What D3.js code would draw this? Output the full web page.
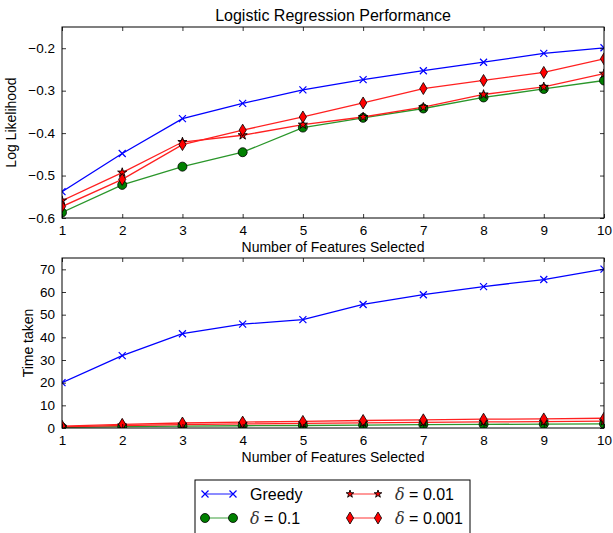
<!DOCTYPE html>
<html>
<head>
<meta charset="utf-8">
<script src="https://cdn.jsdelivr.net/npm/d3@7"></script>
<style>
  body { margin: 0; background: #fff; }
  text { font-family: "Liberation Sans", Arial, sans-serif; fill: #000; }
</style>
</head>
<body>
<div class="board"></div>
<script>
// data
var features = [1, 2, 3, 4, 5, 6, 7, 8, 9, 10];
var llGreedy = [-0.538, -0.448, -0.366, -0.330, -0.298, -0.274, -0.253, -0.233, -0.212, -0.199];
var llD01   = [-0.587, -0.522, -0.479, -0.445, -0.387, -0.364, -0.342, -0.316, -0.296, -0.276];
var llD001  = [-0.559, -0.493, -0.421, -0.405, -0.380, -0.362, -0.339, -0.309, -0.291, -0.260];
var llD0001 = [-0.573, -0.509, -0.427, -0.393, -0.362, -0.329, -0.295, -0.276, -0.257, -0.225];
var tGreedy = [20.0, 31.9, 41.6, 45.8, 47.8, 54.5, 58.8, 62.4, 65.5, 70.1];
var tD01    = [0.3, 0.6, 0.8, 1.0, 1.1, 1.3, 1.5, 1.6, 1.7, 1.8];
var tD001   = [0.5, 1.1, 1.5, 1.8, 2.0, 2.3, 2.5, 2.7, 2.8, 3.0];
var tD0001  = [0.8, 1.6, 2.2, 2.6, 2.9, 3.3, 3.6, 3.9, 4.0, 4.3];
var llTicks = [-0.6, -0.5, -0.4, -0.3, -0.2];
var tTicks = [0, 10, 20, 30, 40, 50, 60, 70];

var W = 613, H = 533;
var svg = d3.select('.board').append('svg')
  .attr('width', W).attr('height', H);

var left = 62, right = 604;
var x = d3.scaleLinear().domain([1, 10]).range([left, right]);

// one series description per line
var series = [
  {name: 'greedy', color: '#0000ff', lineColor: '#0000ff', marker: 'x'},
  {name: 'd01', color: '#008000', lineColor: '#2a962a', marker: 'o'},
  {name: 'd001', color: '#ff0000', lineColor: '#ff2020', marker: '*'},
  {name: 'd0001', color: '#ff0000', lineColor: '#ff2020', marker: 'd'}
];

function drawMarker(g, type, color, cx, cy, small) {
  if (type == 'x') {
    g.append('path')
      .attr('d', 'M' + (cx - 3.5) + ',' + (cy - 3.5) + 'L' + (cx + 3.5) + ',' + (cy + 3.5) +
                 'M' + (cx - 3.5) + ',' + (cy + 3.5) + 'L' + (cx + 3.5) + ',' + (cy - 3.5))
      .style('stroke', color).style('stroke-width', 1.2).style('fill', 'none');
  } else if (type == 'o') {
    g.append('circle').attr('cx', cx).attr('cy', cy).attr('r', 4.5)
      .style('fill', color).style('stroke', '#000').style('stroke-width', 0.8);
  } else if (type == '*') {
    g.append('path')
      .attr('d', d3.symbol().type(d3.symbolStar).size(small ? 18 : 26)())
      .attr('transform', 'translate(' + cx + ',' + cy + ')')
      .style('fill', color).style('stroke', '#000').style('stroke-width', 0.9);
  } else {
    g.append('path')
      .attr('d', 'M0,-6L3.6,0L0,6L-3.6,0Z')
      .attr('transform', 'translate(' + cx + ',' + cy + ')')
      .style('fill', color).style('stroke', '#000').style('stroke-width', 0.8);
  }
}

function panel(top, bottom, domain, ticks, fmt, values, yLabel, yLabelX, id) {
  var y = d3.scaleLinear().domain(domain).range([bottom, top]);

  svg.append('clipPath').attr('id', id)
    .append('rect').attr('x', left).attr('y', top)
    .attr('width', right - left).attr('height', bottom - top);

  var plot = svg.append('g').attr('clip-path', 'url(#' + id + ')');
  var line = d3.line().x(function(d, i) { return x(features[i]); })
    .y(function(d) { return y(d); });

  series.forEach(function(s, k) {
    plot.append('path').datum(values[k]).attr('d', line)
      .style('fill', 'none').style('stroke', s.lineColor).style('stroke-width', 1.3);
  });
  series.forEach(function(s, k) {
    values[k].forEach(function(v, i) {
      drawMarker(plot, s.marker, s.color, x(features[i]), y(v));
    });
  });

  // ticks inside on all sides, matplotlib style
  var axB = svg.append('g').attr('transform', 'translate(0,' + bottom + ')')
    .call(d3.axisBottom(x).tickValues(features).tickSizeInner(-4).tickSizeOuter(0).tickPadding(7));
  var axT = svg.append('g').attr('transform', 'translate(0,' + top + ')')
    .call(d3.axisTop(x).tickValues(features).tickSizeInner(-4).tickSizeOuter(0).tickFormat(''));
  var axL = svg.append('g').attr('transform', 'translate(' + left + ',0)')
    .call(d3.axisLeft(y).tickValues(ticks).tickSizeInner(-4).tickSizeOuter(0).tickPadding(7).tickFormat(fmt));
  var axR = svg.append('g').attr('transform', 'translate(' + right + ',0)')
    .call(d3.axisRight(y).tickValues(ticks).tickSizeInner(-4).tickSizeOuter(0).tickFormat(''));
  [axB, axT, axL, axR].forEach(function(a) {
    a.select('.domain').remove();
    a.selectAll('line').style('stroke', '#000').style('stroke-width', 0.8);
    a.selectAll('text').style('font-size', '13.5px').style('font-family', '"Liberation Sans", Arial, sans-serif');
  });

  svg.append('rect').attr('x', left).attr('y', top)
    .attr('width', right - left).attr('height', bottom - top)
    .style('fill', 'none').style('stroke', '#000').style('stroke-width', 1);

  svg.append('text').attr('x', (left + right) / 2).attr('y', bottom + 34)
    .attr('text-anchor', 'middle').style('font-size', '14px')
    .text('Number of Features Selected');

  svg.append('text')
    .attr('transform', 'translate(' + yLabelX + ',' + (top + bottom) / 2 + ') rotate(-90)')
    .attr('text-anchor', 'middle').style('font-size', '14px')
    .text(yLabel);
}

var minusFmt = function(d) { return d3.format('.1f')(d).replace('-', '\u2212'); };

panel(27, 218, [-0.6, -0.15], llTicks, minusFmt,
  [llGreedy, llD01, llD001, llD0001], 'Log Likelihood', 16, 'clipTop');
panel(258, 428, [0, 75], tTicks, d3.format('d'),
  [tGreedy, tD01, tD001, tD0001], 'Time taken', 33, 'clipBottom');

svg.append('text').attr('x', (left + right) / 2).attr('y', 21)
  .attr('text-anchor', 'middle').style('font-size', '16px')
  .text('Logistic Regression Performance');

// legend
var legend = svg.append('g');
legend.append('rect').attr('x', 195).attr('y', 480).attr('width', 275).attr('height', 60)
  .style('fill', '#fff').style('stroke', '#000').style('stroke-width', 1);

var legendItems = [
  {s: series[0], label: 'Greedy', col: 0, row: 0},
  {s: series[2], label: '0.01', col: 1, row: 0},
  {s: series[1], label: '0.1', col: 0, row: 1},
  {s: series[3], label: '0.001', col: 1, row: 1}
];
legendItems.forEach(function(it) {
  var x0 = it.col == 0 ? 205 : 350;
  var yy = it.row == 0 ? 494 : 518;
  legend.append('line').attr('x1', x0).attr('x2', x0 + 28).attr('y1', yy).attr('y2', yy)
    .style('stroke', it.s.lineColor).style('stroke-opacity', 0.7).style('stroke-width', 1.3);
  drawMarker(legend, it.s.marker, it.s.color, x0, yy, true);
  drawMarker(legend, it.s.marker, it.s.color, x0 + 28, yy, true);
  var t = legend.append('text').attr('x', x0 + 45).attr('y', yy + 6).style('font-size', '16px');
  if (it.label == 'Greedy') {
    t.text('Greedy');
  } else {
    t.append('tspan').style('font-family', '"DejaVu Serif", serif').style('font-style', 'italic')
      .style('fill', '#333').text('\u03b4');
    t.append('tspan').text(' = ' + it.label);
  }
});
</script>
</body>
</html>
